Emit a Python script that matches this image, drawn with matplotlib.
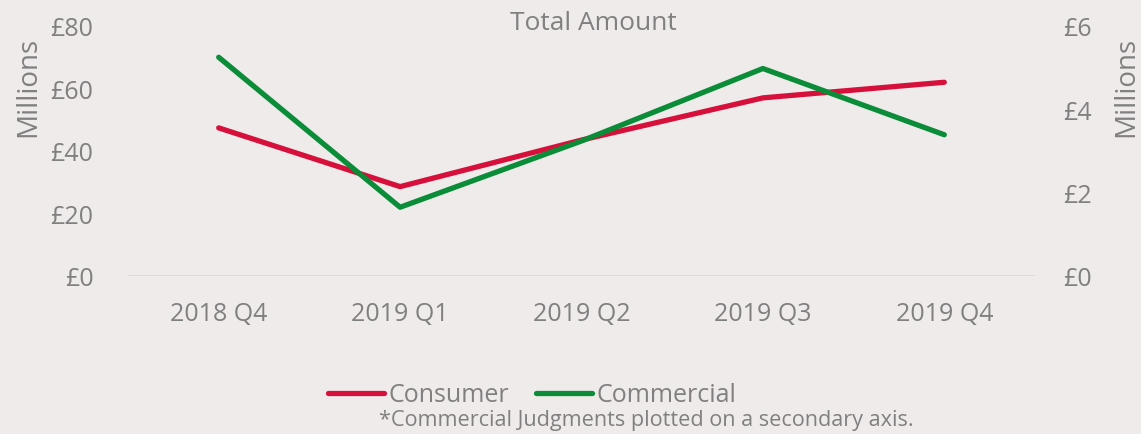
import matplotlib
matplotlib.use("Agg")
import matplotlib.pyplot as plt
from matplotlib.lines import Line2D

categories = ["2018 Q4", "2019 Q1", "2019 Q2", "2019 Q3", "2019 Q4"]
consumer = [47.4, 28.6, 43.5, 57.0, 62.0]          # £ millions, left axis
commercial = [5.25, 1.65, 3.24, 4.98, 3.39]        # £ millions, right axis
left_ticks = [0, 20, 40, 60, 80]
right_ticks = [0, 2, 4, 6]

BG = "#EEEBEA"
TXT = "#808080"
RED = "#D6103B"
GREEN = "#0A8C38"
FONT = "Open Sans"
FS = 18

plt.rcParams["font.family"] = [FONT, "DejaVu Sans"]

W, H = 1141, 435
fig = plt.figure(figsize=(W / 100, H / 100), dpi=100, facecolor=BG)
ax = fig.add_axes([128 / W, 1 - 277 / H, (1035 - 128) / W, 250 / H])
ax.set_facecolor(BG)
ax2 = ax.twinx()

x = list(range(len(categories)))
ax.plot(x, consumer, color=RED, lw=3.8, solid_capstyle="round", solid_joinstyle="round", zorder=3)
ax2.plot(x, commercial, color=GREEN, lw=3.8, solid_capstyle="round", solid_joinstyle="round", zorder=3)

ax.set_xlim(-0.5, len(categories) - 0.5)
ax.set_ylim(0, 80)
ax2.set_ylim(0, 6)
ax.set_yticks(left_ticks)
ax.set_yticklabels([f"£{v}" for v in left_ticks])
ax2.set_yticks(right_ticks)
ax2.set_yticklabels([f"£{v}" for v in right_ticks])
ax.set_xticks(x)
ax.set_xticklabels(categories)

for a in (ax, ax2):
    for s in a.spines.values():
        s.set_visible(False)
    a.tick_params(length=0, colors=TXT, labelsize=FS)
ax.tick_params(axis="y", pad=25)
ax2.tick_params(axis="y", pad=20)
ax.tick_params(axis="x", pad=18)
ax.axhline(0, color="#DCD9D8", lw=1.5, zorder=1)

fig.text(28 / W, 1 - 87 / H, "Millions", rotation=90, ha="center", va="center", color=TXT, fontsize=20)
fig.text(1126 / W, 1 - 87 / H, "Millions", rotation=90, ha="center", va="center", color=TXT, fontsize=20)
fig.text(593 / W, 1 - 23 / H, "Total Amount", ha="center", va="center", color=TXT, fontsize=19)

handles = [Line2D([], [], color=RED, lw=3.8, solid_capstyle="round"),
           Line2D([], [], color=GREEN, lw=3.8, solid_capstyle="round")]
fig.legend(handles, ["Consumer", "Commercial"], loc="center", bbox_to_anchor=(532 / W, 1 - 396 / H),
           ncol=2, frameon=False, fontsize=FS, labelcolor=TXT, handlelength=2.25,
           handletextpad=0.15, columnspacing=1.1, borderpad=0, borderaxespad=0)
fig.text(646 / W, 1 - 421 / H, "*Commercial Judgments plotted on a secondary axis.", ha="center", va="center",
         color=TXT, fontsize=15.6)

fig.savefig("out.png", dpi=100, facecolor=BG)
